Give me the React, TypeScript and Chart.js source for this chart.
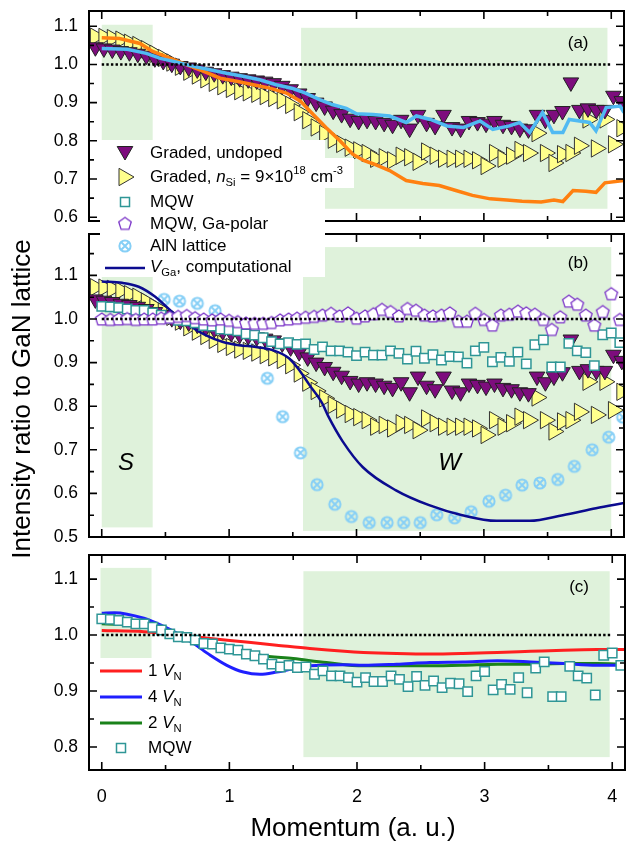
import React, { useEffect, useRef } from 'react';
import { Chart, registerables } from 'chart.js';

Chart.register(...registerables);

const FONT = "'Liberation Sans', Arial, Helvetica, sans-serif";
Chart.defaults.font.family = FONT;
Chart.defaults.color = '#000';

// ---------------- data ----------------
const momentum = [
  0, 0.067, 0.133, 0.2, 0.267, 0.333, 0.4, 0.467, 0.533, 0.6,
  0.667, 0.733, 0.8, 0.867, 0.933, 1.0, 1.067, 1.133, 1.2, 1.267,
  1.333, 1.4, 1.467, 1.533, 1.6, 1.667, 1.733, 1.8, 1.867, 1.933,
  2.0, 2.067, 2.133, 2.2, 2.267, 2.333, 2.4, 2.467, 2.533, 2.6,
  2.667, 2.733, 2.8, 2.867, 2.933, 3.0, 3.067, 3.133, 3.2, 3.267,
  3.333, 3.4, 3.467, 3.533, 3.6, 3.667, 3.733, 3.8, 3.867, 3.933,
  4.0, 4.067,
];
const gradedMomentum = [
  -0.05, 0.017, 0.083, 0.15, 0.217, 0.283, 0.35, 0.417, 0.483, 0.55,
  0.617, 0.683, 0.75, 0.817, 0.883, 0.95, 1.017, 1.083, 1.15, 1.217,
  1.283, 1.35, 1.417, 1.483, 1.55, 1.617, 1.683, 1.75, 1.817, 1.883,
  1.95, 2.017, 2.083, 2.15, 2.217, 2.283, 2.35, 2.417, 2.483, 2.55,
  2.617, 2.683, 2.75, 2.817, 2.883, 2.95, 3.017, 3.083, 3.15, 3.217,
  3.283, 3.35, 3.417, 3.483, 3.55, 3.617, 3.683, 3.75, 3.817, 3.883,
  3.95, 4.017, 4.083,
];
const gradedUndoped = [
  1.045, 1.042, 1.039, 1.035, 1.032, 1.028, 1.023, 1.016, 1.009, 1.002,
  0.996, 0.992, 0.987, 0.981, 0.977, 0.972, 0.968, 0.964, 0.961, 0.958,
  0.955, 0.951, 0.944, 0.935, 0.924, 0.912, 0.900, 0.890, 0.879, 0.870,
  0.858, 0.852, 0.855, 0.852, 0.847, 0.842, 0.855, 0.832, 0.868, 0.847,
  0.839, 0.868, 0.836, 0.832, 0.852, 0.849, 0.845, 0.852, 0.842, 0.839,
  0.832, 0.830, 0.868, 0.855, 0.868, 0.878, 0.953, 0.881, 0.885, 0.881,
  0.881, 0.918, 0.904,
];
const gradedDoped = [
  1.073, 1.072, 1.069, 1.065, 1.057, 1.051, 1.040, 1.028, 1.017, 1.005,
  0.994, 0.981, 0.971, 0.961, 0.952, 0.943, 0.936, 0.930, 0.927, 0.923,
  0.917, 0.912, 0.906, 0.894, 0.875, 0.854, 0.835, 0.818, 0.803, 0.792,
  0.782, 0.775, 0.768, 0.753, 0.757, 0.749, 0.761, 0.757, 0.745, 0.772,
  0.761, 0.753, 0.753, 0.753, 0.753, 0.749, 0.734, 0.768, 0.753, 0.761,
  0.776, 0.768, 0.820, 0.768, 0.742, 0.765, 0.768, 0.787, 0.856, 0.780,
  0.856, 0.791, 0.833,
];
const mqw = [
  1.029, 1.028, 1.026, 1.023, 1.020, 1.020, 1.014, 1.009, 1.002, 0.997,
  0.996, 0.991, 0.985, 0.984, 0.977, 0.975, 0.973, 0.966, 0.963, 0.957,
  0.948, 0.943, 0.946, 0.942, 0.943, 0.930, 0.936, 0.927, 0.927, 0.924,
  0.916, 0.924, 0.917, 0.917, 0.927, 0.921, 0.908, 0.926, 0.910, 0.918,
  0.906, 0.914, 0.913, 0.899, 0.927, 0.935, 0.902, 0.912, 0.903, 0.924,
  0.897, 0.941, 0.952, 0.890, 0.890, 0.944, 0.927, 0.923, 0.893, 0.964,
  0.968, 0.946,
];
const mqwGaPolar = [
  1.000, 0.999, 1.000, 1.001, 0.999, 1.000, 1.000, 1.002, 1.004, 1.006,
  1.008, 1.003, 1.000, 0.998, 1.000, 0.997, 0.994, 0.991, 0.990, 0.990,
  0.992, 0.998, 1.000, 1.002, 1.004, 1.006, 1.009, 1.013, 1.007, 1.014,
  1.002, 1.007, 1.012, 1.022, 1.017, 1.007, 1.024, 1.020, 1.009, 1.007,
  1.009, 1.014, 0.995, 0.995, 1.013, 0.999, 0.986, 1.009, 1.011, 1.018,
  1.014, 1.011, 0.999, 0.976, 1.005, 1.041, 1.034, 1.009, 0.986, 1.017,
  1.058, 0.999,
];
const alnMomentum = [
  0.08, 0.215, 0.35, 0.49, 0.61, 0.75, 0.89, 1.03, 1.165, 1.3,
  1.42, 1.56, 1.69, 1.83, 1.96, 2.1, 2.24, 2.37, 2.5, 2.63,
  2.77, 2.9, 3.04, 3.17, 3.3, 3.44, 3.58, 3.71, 3.85, 3.98, 4.09,
];
const alnLattice = [
  1.03, 1.032, 1.035, 1.045, 1.041, 1.036, 1.019, 0.975, 0.93, 0.864,
  0.776, 0.693, 0.62, 0.575, 0.547, 0.533, 0.533, 0.533, 0.533, 0.551,
  0.544, 0.558, 0.582, 0.596, 0.619, 0.624, 0.632, 0.662, 0.70, 0.729, 0.775,
];
const vgaMomentum = [0, 0.16, 0.29, 0.42, 0.55, 0.685, 0.815, 0.946, 1.077, 1.21, 1.34, 1.47, 1.55, 1.63, 1.73, 1.78, 1.89, 2.05, 2.31, 2.57, 2.83, 3.1, 3.36, 3.62, 3.88, 4.1];
const vgaComputational = [1.086, 1.083, 1.074, 1.051, 1.017, 0.986, 0.963, 0.948, 0.940, 0.936, 0.929, 0.91, 0.883, 0.849, 0.807, 0.776, 0.72, 0.66, 0.607, 0.573, 0.55, 0.537, 0.537, 0.55, 0.566, 0.578];
const orangeMomentum = [0.0, 0.14, 0.3, 0.4, 0.54, 0.67, 0.8, 0.93, 1.06, 1.19, 1.32, 1.45, 1.56, 1.66, 1.76, 1.87, 1.97, 2.06, 2.13, 2.26, 2.39, 2.52, 2.65, 2.78, 2.91, 3.05, 3.18, 3.3, 3.45, 3.55, 3.62, 3.7, 3.8, 3.88, 3.95, 4.1];
const orangeRatio = [1.070, 1.068, 1.055, 1.034, 1.016, 0.999, 0.982, 0.964, 0.956, 0.947, 0.938, 0.925, 0.904, 0.869, 0.835, 0.80, 0.765, 0.748, 0.74, 0.722, 0.696, 0.688, 0.683, 0.67, 0.657, 0.648, 0.645, 0.642, 0.64, 0.645, 0.641, 0.67, 0.668, 0.665, 0.69, 0.696];
const cyanMomentum = [0.0, 0.2, 0.35, 0.46, 0.59, 0.72, 0.85, 0.98, 1.11, 1.24, 1.37, 1.5, 1.6, 1.71, 1.81, 1.92, 2.0, 2.13, 2.26, 2.39, 2.47, 2.58, 2.71, 2.84, 2.97, 3.07, 3.2, 3.28, 3.36, 3.46, 3.54, 3.62, 3.67, 3.83, 3.88, 3.96, 4.07, 4.1];
const cyanRatio = [1.042, 1.04, 1.029, 1.016, 1.006, 0.995, 0.986, 0.977, 0.969, 0.96, 0.947, 0.937, 0.925, 0.908, 0.895, 0.885, 0.871, 0.869, 0.865, 0.848, 0.865, 0.856, 0.839, 0.835, 0.852, 0.83, 0.839, 0.848, 0.822, 0.874, 0.822, 0.822, 0.856, 0.848, 0.826, 0.887, 0.891, 0.874];
const vn1Momentum = [0, 0.33, 0.59, 0.85, 1.11, 1.37, 1.63, 1.9, 2.05, 2.31, 2.57, 2.83, 3.1, 3.36, 3.62, 3.88, 4.1];
const vn1Ratio = [1.008, 1.006, 1.001, 0.994, 0.988, 0.982, 0.976, 0.971, 0.969, 0.967, 0.966, 0.967, 0.969, 0.971, 0.973, 0.974, 0.974];
const vn4Momentum = [0, 0.1, 0.33, 0.46, 0.59, 0.72, 0.85, 0.98, 1.11, 1.24, 1.37, 1.5, 1.63, 1.9, 2.05, 2.31, 2.57, 2.83, 3.1, 3.36, 3.62, 3.88, 4.1];
const vn4Ratio = [1.039, 1.04, 1.03, 1.018, 1.003, 0.985, 0.964, 0.946, 0.934, 0.930, 0.934, 0.94, 0.945, 0.947, 0.946, 0.948, 0.951, 0.952, 0.954, 0.952, 0.949, 0.946, 0.946];
const vn2Momentum = [0, 0.33, 0.52, 0.72, 0.98, 1.24, 1.5, 1.76, 2.05, 2.31, 2.57, 2.83, 3.1, 3.36, 3.62, 3.88, 4.1];
const vn2Ratio = [1.02, 1.016, 1.006, 0.994, 0.979, 0.964, 0.958, 0.951, 0.945, 0.945, 0.945, 0.946, 0.948, 0.948, 0.949, 0.949, 0.948];
const referenceLine = [{ x: 0, y: 1 }, { x: 4, y: 1 }];

const xMajor = [0, 1, 2, 3, 4];
const xMinor = [0.5, 1.5, 2.5, 3.5];
const yMajorA = [0.6, 0.7, 0.8, 0.9, 1.0, 1.1];
const yMinorA = [0.65, 0.75, 0.85, 0.95, 1.05];
const yMajorB = [0.5, 0.6, 0.7, 0.8, 0.9, 1.0, 1.1];
const yMinorB = [0.55, 0.65, 0.75, 0.85, 0.95, 1.05, 1.15];
const yMajorC = [0.8, 0.9, 1.0, 1.1];
const yMinorC = [0.85, 0.95, 1.05];

// shaded regions [x0, x1, y0, y1] in data units
const shadesA: number[][] = [[0, 0.4, 0.8, 1.104], [1.565, 3.97, 0.622, 1.096]];
const shadesB: number[][] = [[0, 0.4, 0.522, 1.098], [1.58, 4.0, 0.514, 1.165]];
const shadesC: number[][] = [[-0.01, 0.39, 0.959, 1.12], [1.58, 3.98, 0.782, 1.114]];

// ---------------- styles ----------------
const SHADE = '#DFF2DB';
const PURPLE = '#7D0C7D';
const YELLOW = '#FFFF8C';
const TEAL = '#2F9696';
const VIOLET = '#7B35C8';
const ALN = '#86CFF6';
const NAVY = '#0B0B8F';
const ORANGE = '#FF8010';
const CYAN = '#50BAF2';
const RED = '#FF1F1F';
const BLUE = '#1F1FFF';
const GREEN = '#1A821A';

const pts = (xs: number[], ys: number[]) => xs.map((x, i) => ({ x, y: ys[i] }));

function makePentagon(): HTMLCanvasElement {
  const c = document.createElement('canvas');
  c.width = 18; c.height = 18;
  const g = c.getContext('2d')!;
  g.beginPath();
  for (let k = 0; k < 5; k++) {
    const a = -Math.PI / 2 + (k * 2 * Math.PI) / 5;
    const px = 9 + 6.6 * Math.cos(a), py = 9.6 + 6.6 * Math.sin(a);
    if (k === 0) g.moveTo(px, py); else g.lineTo(px, py);
  }
  g.closePath();
  g.fillStyle = '#fff'; g.fill();
  g.strokeStyle = VIOLET; g.lineWidth = 1.3; g.stroke();
  return c;
}
function makeAln(): HTMLCanvasElement {
  const c = document.createElement('canvas');
  c.width = 16; c.height = 16;
  const g = c.getContext('2d')!;
  g.strokeStyle = ALN; g.lineWidth = 2;
  g.beginPath(); g.arc(8, 8, 5.6, 0, Math.PI * 2); g.stroke();
  g.beginPath(); g.moveTo(4.3, 4.3); g.lineTo(11.7, 11.7); g.moveTo(11.7, 4.3); g.lineTo(4.3, 11.7); g.stroke();
  return c;
}

type Seg = [string, string];
function drawRich(ctx: CanvasRenderingContext2D, x: number, y: number, segs: Seg[], size: number) {
  let cx = x;
  ctx.textAlign = 'left';
  ctx.textBaseline = 'middle';
  ctx.fillStyle = '#000';
  for (const [t, s] of segs) {
    const small = s === 'sub' || s === 'sup';
    const fs = small ? size * 0.66 : size;
    ctx.font = `${s === 'i' ? 'italic ' : ''}${fs}px ${FONT}`;
    const dy = s === 'sub' ? size * 0.32 : s === 'sup' ? -size * 0.36 : 0;
    ctx.fillText(t, cx, y + dy);
    cx += ctx.measureText(t).width;
  }
}
function triDown(ctx: CanvasRenderingContext2D, x: number, y: number, r: number) {
  ctx.beginPath(); ctx.moveTo(x, y + r); ctx.lineTo(x - r * 0.866, y - r / 2); ctx.lineTo(x + r * 0.866, y - r / 2); ctx.closePath();
  ctx.fillStyle = PURPLE; ctx.fill(); ctx.strokeStyle = '#222'; ctx.lineWidth = 1; ctx.stroke();
}
function triRight(ctx: CanvasRenderingContext2D, x: number, y: number, r: number) {
  ctx.beginPath(); ctx.moveTo(x + r, y); ctx.lineTo(x - r / 2, y - r * 0.866); ctx.lineTo(x - r / 2, y + r * 0.866); ctx.closePath();
  ctx.fillStyle = YELLOW; ctx.fill(); ctx.strokeStyle = '#333'; ctx.lineWidth = 1; ctx.stroke();
}
function squareMark(ctx: CanvasRenderingContext2D, x: number, y: number) {
  ctx.fillStyle = '#fff'; ctx.fillRect(x - 4.5, y - 4.5, 9, 9);
  ctx.strokeStyle = TEAL; ctx.lineWidth = 1.5; ctx.strokeRect(x - 4.5, y - 4.5, 9, 9);
}
function lineMark(ctx: CanvasRenderingContext2D, x0: number, x1: number, y: number, color: string, w: number) {
  ctx.beginPath(); ctx.moveTo(x0, y); ctx.lineTo(x1, y); ctx.strokeStyle = color; ctx.lineWidth = w; ctx.stroke();
}

interface PanelCfg {
  shades: number[][];
  yMajor: number[];
  yMinor: number[];
  texts: { t: string; x: number; y: number; font: string }[];
  extra?: (ctx: CanvasRenderingContext2D) => void;
}

function decoPlugin(p: PanelCfg) {
  return {
    id: 'deco',
    beforeDatasetsDraw(chart: any) {
      const { ctx, scales } = chart;
      const sx = scales.x, sy = scales.y;
      ctx.save();
      ctx.fillStyle = SHADE;
      for (const [x0, x1, y0, y1] of p.shades) {
        const l = sx.getPixelForValue(x0), r = sx.getPixelForValue(x1);
        const t = sy.getPixelForValue(y1), b = sy.getPixelForValue(y0);
        ctx.fillRect(l, t, r - l, b - t);
      }
      ctx.restore();
    },
    afterDatasetsDraw(chart: any) {
      const { ctx, scales, chartArea } = chart;
      const { left, right, top, bottom } = chartArea;
      const sx = scales.x, sy = scales.y;
      ctx.save();
      ctx.fillStyle = '#000';
      ctx.textAlign = 'center';
      ctx.textBaseline = 'middle';
      for (const tx of p.texts) {
        ctx.font = tx.font;
        ctx.fillText(tx.t, sx.getPixelForValue(tx.x), sy.getPixelForValue(tx.y));
      }
      ctx.strokeStyle = '#000';
      ctx.lineWidth = 1.6;
      ctx.beginPath();
      const vt = (v: number, len: number) => {
        const px = sx.getPixelForValue(v);
        ctx.moveTo(px, top); ctx.lineTo(px, top + len);
        ctx.moveTo(px, bottom); ctx.lineTo(px, bottom - len);
      };
      const ht = (v: number, len: number) => {
        const py = sy.getPixelForValue(v);
        ctx.moveTo(left, py); ctx.lineTo(left + len, py);
        ctx.moveTo(right, py); ctx.lineTo(right - len, py);
      };
      xMajor.forEach((v) => vt(v, 8));
      xMinor.forEach((v) => vt(v, 5));
      p.yMajor.forEach((v) => ht(v, 8));
      p.yMinor.forEach((v) => ht(v, 5));
      ctx.stroke();
      ctx.lineWidth = 2;
      ctx.strokeRect(left, top, right - left, bottom - top);
      ctx.restore();
    },
    afterDraw(chart: any) {
      if (p.extra) {
        chart.ctx.save();
        p.extra(chart.ctx);
        chart.ctx.restore();
      }
    },
  };
}

function makeConfig(opts: {
  top: number; bottom: number; yMin: number; yMax: number; yMajor: number[];
  showX: boolean; datasets: any[]; panel: PanelCfg;
}) {
  const xScale: any = {
    type: 'linear', min: -0.1, max: 4.1, display: opts.showX, position: 'bottom', bounds: 'data',
    grid: { display: false, drawTicks: false }, border: { display: false },
    ticks: { font: { size: 18 }, color: '#000', padding: 16, maxRotation: 0, callback: (v: any) => String(v) },
    afterBuildTicks: (s: any) => { s.ticks = xMajor.map((v) => ({ value: v })); },
  };
  if (opts.showX) {
    xScale.afterFit = (s: any) => { s.height = 78; s.paddingLeft = 0; s.paddingRight = 0; };
  }
  return {
    type: 'scatter' as const,
    data: { datasets: opts.datasets },
    options: {
      animation: false as const,
      responsive: false,
      devicePixelRatio: 1,
      events: [] as any[],
      layout: { padding: { left: 0, right: 10, top: opts.top, bottom: opts.showX ? 0 : opts.bottom } },
      plugins: { legend: { display: false }, tooltip: { enabled: false } },
      scales: {
        x: xScale,
        y: {
          type: 'linear', min: opts.yMin, max: opts.yMax, position: 'left', bounds: 'data',
          grid: { display: false, drawTicks: false }, border: { display: false },
          ticks: { font: { size: 17.5 }, color: '#000', padding: 11, callback: (v: any) => Number(v).toFixed(1) },
          afterBuildTicks: (s: any) => { s.ticks = opts.yMajor.map((v) => ({ value: v })); },
          afterFit: (s: any) => { s.width = 89; s.paddingTop = 0; s.paddingBottom = 0; },
        },
      },
    },
    plugins: [decoPlugin(opts.panel)],
  };
}

const dotted = (order: number) => ({
  label: 'ratio 1', data: referenceLine, showLine: true, borderColor: '#000', borderWidth: 2.4,
  borderDash: [2.4, 2.2], pointRadius: 0, order,
});
const lineDs = (label: string, data: any[], color: string, width: number, order: number, smooth: boolean) => ({
  label, data, showLine: true, borderColor: color, borderWidth: width, pointRadius: 0, fill: false, order,
  ...(smooth ? { cubicInterpolationMode: 'monotone' } : { tension: 0 }),
});
const purpleDs = (order: number) => ({
  label: 'Graded, undoped', data: pts(gradedMomentum, gradedUndoped), pointStyle: 'triangle', pointRotation: 180,
  pointRadius: 9, pointBackgroundColor: PURPLE, pointBorderColor: '#222', pointBorderWidth: 1, order,
});
const yellowDs = (order: number) => ({
  label: 'Graded, nSi = 9×10^18 cm^-3', data: pts(gradedMomentum, gradedDoped), pointStyle: 'triangle', pointRotation: 90,
  pointRadius: 10, pointBackgroundColor: YELLOW, pointBorderColor: '#333', pointBorderWidth: 1, order,
});
const mqwDs = (order: number) => ({
  label: 'MQW', data: pts(momentum, mqw), pointStyle: 'rect', pointRadius: 6.6,
  pointBackgroundColor: '#fff', pointBorderColor: TEAL, pointBorderWidth: 1.5, order,
});

export default function App() {
  const refA = useRef<HTMLCanvasElement>(null);
  const refB = useRef<HTMLCanvasElement>(null);
  const refC = useRef<HTMLCanvasElement>(null);

  useEffect(() => {
    const pent = makePentagon();
    const aln = makeAln();

    const cfgA = makeConfig({
      top: 10, bottom: 627, yMin: 0.59, yMax: 1.14, yMajor: yMajorA, showX: false,
      datasets: [
        dotted(-1),
        lineDs('measured A', pts(cyanMomentum, cyanRatio), CYAN, 3.5, 0, false),
        lineDs('measured B', pts(orangeMomentum, orangeRatio), ORANGE, 3.5, 1, false),
        purpleDs(2),
        yellowDs(3),
      ],
      panel: {
        shades: shadesA, yMajor: yMajorA, yMinor: yMinorA,
        texts: [{ t: '(a)', x: 3.74, y: 1.055, font: `17px ${FONT}` }],
      },
    });

    const cfgB = makeConfig({
      top: 234, bottom: 311, yMin: 0.5, yMax: 1.195, yMajor: yMajorB, showX: false,
      datasets: [
        dotted(-1),
        { label: 'MQW, Ga-polar', data: pts(momentum, mqwGaPolar), pointStyle: pent, pointRadius: 7, order: 0 },
        mqwDs(1),
        lineDs('VGa, computational', pts(vgaMomentum, vgaComputational), NAVY, 2.5, 2, true),
        purpleDs(3),
        yellowDs(4),
        { label: 'AlN lattice', data: pts(alnMomentum, alnLattice), pointStyle: aln, pointRadius: 7, order: 5 },
      ],
      panel: {
        shades: shadesB, yMajor: yMajorB, yMinor: yMinorB,
        texts: [
          { t: '(b)', x: 3.74, y: 1.128, font: `17px ${FONT}` },
          { t: 'S', x: 0.19, y: 0.67, font: `italic 24px ${FONT}` },
          { t: 'W', x: 2.73, y: 0.67, font: `italic 24px ${FONT}` },
        ],
        extra: (ctx) => {
          ctx.fillStyle = '#fff';
          ctx.fillRect(100, 140, 225, 137);
          ctx.fillRect(325, 158, 29, 30);
          const fs = 17;
          triDown(ctx, 125, 151, 9);
          drawRich(ctx, 150, 153, [['Graded, undoped', '']], fs);
          triRight(ctx, 124, 177, 10);
          drawRich(ctx, 150, 177, [['Graded, ', ''], ['n', 'i'], ['Si', 'sub'], [' = 9×10', ''], ['18', 'sup'], [' cm', ''], ['-3', 'sup']], fs);
          squareMark(ctx, 125, 202);
          drawRich(ctx, 150, 202, [['MQW', '']], fs);
          ctx.drawImage(pent, 125 - 9, 224 - 9.6);
          drawRich(ctx, 150, 224, [['MQW, Ga-polar', '']], fs);
          ctx.drawImage(aln, 125 - 8, 246 - 8);
          drawRich(ctx, 150, 246, [['AlN lattice', '']], fs);
          lineMark(ctx, 105, 145, 268, NAVY, 2.5);
          drawRich(ctx, 150, 267, [['V', 'i'], ['Ga', 'sub'], [', computational', '']], fs);
        },
      },
    });

    const cfgC = makeConfig({
      top: 555, bottom: 0, yMin: 0.759, yMax: 1.143, yMajor: yMajorC, showX: true,
      datasets: [
        dotted(-1),
        mqwDs(0),
        lineDs('1 VN', pts(vn1Momentum, vn1Ratio), RED, 3, 1, true),
        lineDs('4 VN', pts(vn4Momentum, vn4Ratio), BLUE, 3, 2, true),
        lineDs('2 VN', pts(vn2Momentum, vn2Ratio), GREEN, 3, 3, true),
      ],
      panel: {
        shades: shadesC, yMajor: yMajorC, yMinor: yMinorC,
        texts: [{ t: '(c)', x: 3.74, y: 1.086, font: `17px ${FONT}` }],
        extra: (ctx) => {
          const fs = 17;
          lineMark(ctx, 100, 142, 671, RED, 3);
          drawRich(ctx, 148, 671, [['1 ', ''], ['V', 'i'], ['N', 'sub']], fs);
          lineMark(ctx, 100, 142, 697, BLUE, 3);
          drawRich(ctx, 148, 697, [['4 ', ''], ['V', 'i'], ['N', 'sub']], fs);
          lineMark(ctx, 100, 142, 723, GREEN, 3);
          drawRich(ctx, 148, 723, [['2 ', ''], ['V', 'i'], ['N', 'sub']], fs);
          squareMark(ctx, 121, 748);
          drawRich(ctx, 148, 748, [['MQW', '']], fs);
          // axis titles
          ctx.fillStyle = '#000';
          ctx.textAlign = 'center';
          ctx.textBaseline = 'middle';
          ctx.font = `26px ${FONT}`;
          ctx.fillText('Momentum (a. u.)', 353, 829);
          ctx.save();
          ctx.translate(23, 399);
          ctx.rotate(-Math.PI / 2);
          ctx.fillText('Intensity ratio to GaN lattice', 0, 0);
          ctx.restore();
        },
      },
    });

    const charts = [
      new Chart(refA.current!, cfgA as any),
      new Chart(refB.current!, cfgB as any),
      new Chart(refC.current!, cfgC as any),
    ];
    return () => charts.forEach((c) => c.destroy());
  }, []);

  const st = (z: number): React.CSSProperties => ({
    position: 'absolute', left: 0, top: 0, width: 635, height: 848, zIndex: z,
  });
  return (
    <div style={{ position: 'absolute', left: 0, top: 0, width: 635, height: 848, background: '#fff' }}>
      <canvas ref={refA} width={635} height={848} style={st(1)} />
      <canvas ref={refC} width={635} height={848} style={st(2)} />
      <canvas ref={refB} width={635} height={848} style={st(3)} />
    </div>
  );
}
